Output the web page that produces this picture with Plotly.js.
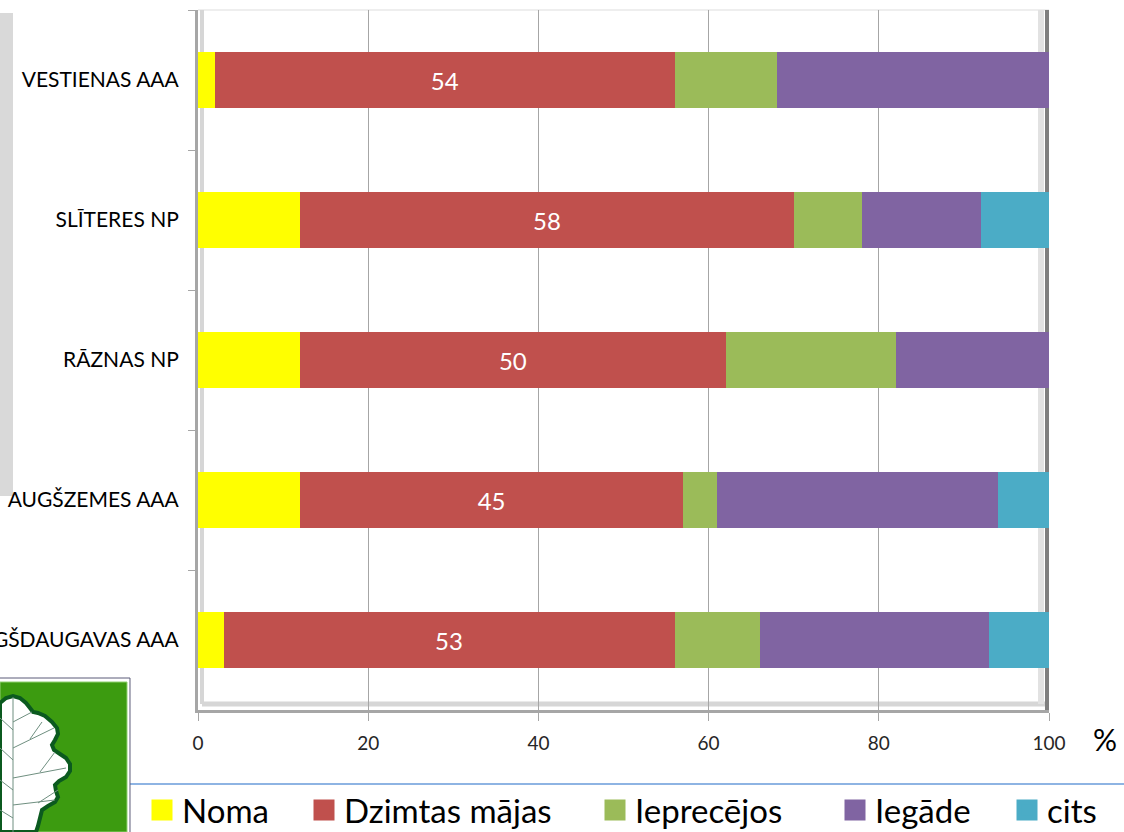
<!DOCTYPE html>
<html><head><meta charset="utf-8">
<script src="https://cdn.plot.ly/plotly-3.0.1.min.js"></script>
<style>html,body{margin:0;padding:0;background:#fff;} #chart{width:1124px;height:832px;}</style>
</head><body><div id="chart"></div>
<script>
const categories = ["VESTIENAS AAA", "SLĪTERES NP", "RĀZNAS NP", "AUGŠZEMES AAA", "AUGŠDAUGAVAS AAA"];
const seriesNames = ["Noma", "Dzimtas mājas", "Ieprecējos", "Iegāde", "cits"];
const noma = [2, 12, 12, 12, 3];
const dzimtasMajas = [54, 58, 50, 45, 53];
const ieprecejos = [12, 8, 20, 4, 10];
const iegade = [32, 14, 18, 33, 27];
const cits = [0, 8, 0, 6, 7];
const xTicks = [0, 20, 40, 60, 80, 100];
const axisUnit = "%";

const seriesValues = [noma, dzimtasMajas, ieprecejos, iegade, cits];
const colors = ["#ffff00", "#c0504d", "#9bbb59", "#8064a2", "#4bacc6"];
const FONT = "Lato, Calibri, 'Open Sans', sans-serif";

// plot-area pixel frame
const W = 1124, H = 832;
const L = 198, R = 1049, T = 10, B = 710;
const px = x => (x - L) / (R - L);
const py = y => (B - y) / (B - T);
function pathFrom(pts, close) {
  let s = pts.map((p, i) => (i ? 'L' : 'M') + px(p[0]).toFixed(5) + ',' + py(p[1]).toFixed(5)).join(' ');
  return close ? s + ' Z' : s;
}

const traces = [];
seriesValues.forEach((vals, i) => {
  const t = {
    type: 'bar', orientation: 'h', name: seriesNames[i],
    y: categories, x: vals,
    marker: {color: colors[i], line: {width: 0}},
    showlegend: false, hoverinfo: 'skip'
  };
  if (i === 1) {
    t.text = vals.map(String);
    t.textposition = 'inside';
    t.insidetextanchor = 'middle';
    t.textangle = 0;
    t.constraintext = 'none';
    t.insidetextfont = {family: FONT, size: 24, color: '#ffffff'};
  }
  traces.push(t);
});
// legend entries (one legend per entry so they can be placed like the original)
seriesNames.forEach((n, i) => {
  traces.push({
    type: 'scatter', mode: 'markers', name: n, x: [null], y: [null],
    marker: {symbol: 'square', size: 16, color: colors[i], line: {color: colors[i], width: 5}},
    legend: i === 0 ? 'legend' : 'legend' + (i + 1),
    showlegend: true, hoverinfo: 'skip'
  });
});

const legendLeft = [142, 304, 595, 835, 1007];
const legends = {};
legendLeft.forEach((x, i) => {
  legends[i === 0 ? 'legend' : 'legend' + (i + 1)] = {
    xref: 'container', yref: 'container', x: x / W, y: 1 - 810 / H,
    xanchor: 'left', yanchor: 'middle', orientation: 'h',
    font: {family: FONT, size: 33, color: '#000'},
    bgcolor: 'rgba(0,0,0,0)', borderwidth: 0, itemwidth: 30
  };
});

const leafOutline = [[0,703],[6,698],[13,696],[20,698],[26,703],[30,708],[33,712],[38,713],[45,716],[52,722],[57,728],[58,734],[55,740],[52,745],[54,750],[60,754],[66,758],[70,764],[70,771],[66,777],[59,781],[55,785],[56,791],[58,797],[55,802],[48,806],[42,810],[40,818],[38,826],[36,832],[0,832]];
const veins = [
  [[13,697],[13,832]],
  [[13,722],[32,712]], [[13,748],[54,728]], [[13,778],[66,768]], [[13,805],[55,800]],
  [[13,730],[0,718]], [[13,760],[0,748]], [[13,790],[0,780]], [[13,818],[0,810]],
  [[30,739],[42,722]], [[40,772],[55,752]], [[38,803],[58,790]]
];

const shapes = [
  // grey side panel
  {type: 'rect', xref: 'paper', yref: 'paper', x0: px(0), x1: px(13), y0: py(496), y1: py(13), fillcolor: '#d9d9d9', line: {width: 0}, layer: 'below'},
  // chart walls
  {type: 'line', xref: 'paper', yref: 'paper', x0: px(L), x1: px(R), y0: py(T), y1: py(T), line: {color: '#eeeeee', width: 2}, layer: 'below'},
  {type: 'line', xref: 'paper', yref: 'paper', x0: px(202), x1: px(202), y0: py(T), y1: py(704), line: {color: '#d6d6d6', width: 4}, layer: 'below'},
  {type: 'line', xref: 'paper', yref: 'paper', x0: px(202), x1: px(1045), y0: py(704), y1: py(704), line: {color: '#d6d6d6', width: 5}, layer: 'below'},
  {type: 'line', xref: 'paper', yref: 'paper', x0: px(1041), x1: px(1041), y0: py(T), y1: py(704), line: {color: '#e2e2e2', width: 6}, layer: 'below'},
  {type: 'line', xref: 'paper', yref: 'paper', x0: px(1047), x1: px(1047), y0: py(T), y1: py(B), line: {color: '#7f7f7f', width: 4}, layer: 'below'},
  // separator above legend
  {type: 'line', xref: 'paper', yref: 'paper', x0: px(130), x1: px(1124), y0: py(784), y1: py(784), line: {color: '#8eb4e3', width: 2}},
  // logo
  {type: 'path', xref: 'paper', yref: 'paper', path: pathFrom([[0,678],[130,678],[130,832]], false), line: {color: '#5b5b78', width: 1}},
  {type: 'rect', xref: 'paper', yref: 'paper', x0: px(0), x1: px(127), y0: py(832), y1: py(682), fillcolor: '#3c9b10', line: {color: '#8fd070', width: 1}},
  {type: 'path', xref: 'paper', yref: 'paper', path: pathFrom(leafOutline, true), fillcolor: '#ffffff', line: {color: '#0b5a1f', width: 4}}
];
veins.forEach(v => shapes.push({type: 'path', xref: 'paper', yref: 'paper', path: pathFrom(v, false), line: {color: '#6f8f80', width: 1}}));

const layout = Object.assign({
  width: W, height: H,
  margin: {l: L, r: W - R, t: T, b: H - B, pad: 0},
  paper_bgcolor: '#ffffff', plot_bgcolor: '#ffffff',
  barmode: 'stack', bargap: 0.6,
  font: {family: FONT, color: '#000'},
  xaxis: {
    range: [0, 100], tickvals: xTicks, ticktext: xTicks.map(String),
    showgrid: true, gridcolor: '#a6a6a6', gridwidth: 1, zeroline: false,
    showline: true, linecolor: '#a6a6a6', linewidth: 3,
    ticks: 'outside', ticklen: 8, tickcolor: '#a6a6a6', tickwidth: 1,
    tickfont: {family: FONT, size: 19, color: '#262626'}, ticklabelstandoff: 6,
    fixedrange: true
  },
  yaxis: {
    type: 'category', categoryorder: 'array', categoryarray: categories,
    range: [categories.length - 0.5, -0.5],
    showgrid: false, zeroline: false,
    showline: true, linecolor: '#a6a6a6', linewidth: 3,
    ticks: 'outside', tickson: 'boundaries', ticklen: 7, tickcolor: '#a6a6a6', tickwidth: 1,
    tickfont: {family: FONT, size: 21, color: '#000'}, ticklabelstandoff: 12,
    automargin: false, fixedrange: true
  },
  shapes: shapes,
  annotations: [{
    xref: 'paper', yref: 'paper', x: px(1105), y: py(739), xanchor: 'center', yanchor: 'middle',
    text: axisUnit, showarrow: false, font: {family: FONT, size: 30, color: '#000'}
  }]
}, legends);

Plotly.newPlot('chart', traces, layout, {displayModeBar: false, staticPlot: true});
</script>
</body></html>
